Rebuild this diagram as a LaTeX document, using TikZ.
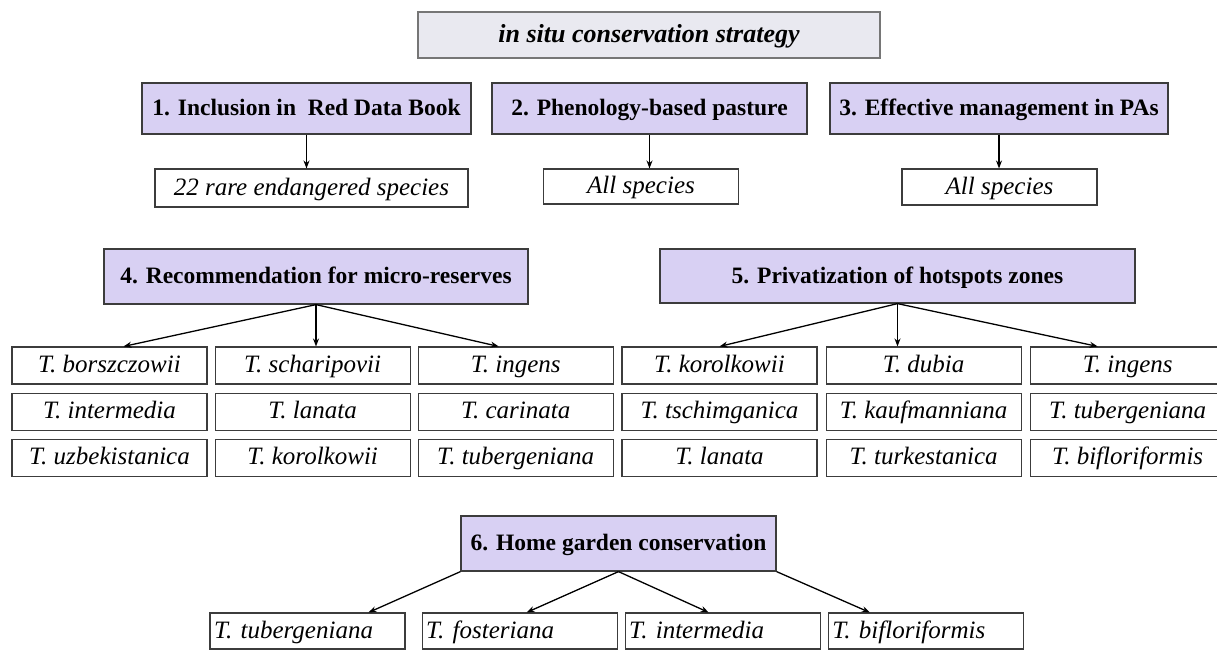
\documentclass[tikz,border=0pt]{standalone}
\usepackage{fontspec}
\setmainfont{Liberation Serif}
\usetikzlibrary{arrows.meta,positioning}
\definecolor{headfill}{RGB}{216,208,243}
\definecolor{titlefill}{RGB}{233,233,240}
\definecolor{boxline}{RGB}{60,60,60}

\begin{document}
\begin{tikzpicture}[
    x=1pt, y=-1pt,
    titlebox/.style={draw=boxline!70, fill=titlefill, line width=1.2pt, minimum width=462pt, minimum height=46pt, inner sep=0pt, text height=18pt, text depth=3pt, font=\fontsize{26}{30}\selectfont\bfseries\itshape},
    headbox/.style={draw=boxline, fill=headfill, line width=1.2pt, minimum height=51pt, inner sep=0pt, text height=16pt, text depth=2pt, font=\fontsize{23.5}{28}\selectfont\bfseries},
    leafbox/.style={draw=boxline, fill=white, line width=1.1pt, minimum width=195pt, minimum height=37pt, inner sep=0pt, text height=17pt, text depth=3pt, font=\fontsize{25}{29}\selectfont\itshape},
    leftleaf/.style={leafbox, text width=187pt, inner xsep=4pt, align=left},
    arrow/.style={-{Stealth[length=8pt,width=6pt]}, line width=1.3pt}
]
    \useasboundingbox[fill=white] (0,0) rectangle (1217,649);

    % strategy and the first three measures
    \node[titlebox] (top) at (649,35) {in situ conservation strategy};
    \node[headbox, minimum width=329pt] (h1) at (306.5,108.5) {1. Inclusion in\ \ Red Data Book};
    \node[headbox, minimum width=315pt] (h2) at (649.5,108.5) {2. Phenology-based pasture};
    \node[headbox, minimum width=338pt] (h3) at (999,108.5) {3. Effective management in PAs};
    \node[leafbox, minimum width=313pt, minimum height=38pt] (s1) at (311.5,188) {22 rare endangered species};
    \node[leafbox, minimum height=35pt] (s2) at (641,186.5) {All species};
    \node[leafbox, minimum height=36pt] (s3) at (999.5,187) {All species};

    \draw[arrow] (h1.south) -- (h1.south |- s1.north);
    \draw[arrow] (h2.south) -- (h2.south |- s2.north);
    \draw[arrow] (h3.south) -- (h3.south |- s3.north);

    % micro-reserves
    \node[headbox, minimum width=424pt, minimum height=55pt] (h4) at (316,276.5) {4. Recommendation for micro-reserves};
    \node[leafbox] (m11) at (109.5,365.5) {T. borszczowii};
    \node[leafbox, right=7pt of m11] (m12) {T. scharipovii};
    \node[leafbox, right=7pt of m12] (m13) {T. ingens};
    \node[leafbox, below=8pt of m11] (m21) {T. intermedia};
    \node[leafbox, below=8pt of m12] (m22) {T. lanata};
    \node[leafbox, below=8pt of m13] (m23) {T. carinata};
    \node[leafbox, below=8pt of m21] (m31) {T. uzbekistanica};
    \node[leafbox, below=8pt of m22] (m32) {T. korolkowii};
    \node[leafbox, below=8pt of m23] (m33) {T. tubergeniana};

    \draw[arrow] (h4.south) -- ([xshift=14pt]m11.north);
    \draw[arrow] (h4.south) -- (h4.south |- m12.north);
    \draw[arrow] (h4.south) -- ([xshift=-17pt]m13.north);

    % hotspots zones
    \node[headbox, minimum width=475pt, minimum height=54pt] (h5) at (897.5,276) {5. Privatization of hotspots zones};
    \node[leafbox] (r11) at (719.5,365.5) {T. korolkowii};
    \node[leafbox, right=8pt of r11] (r12) {T. dubia};
    \node[leafbox, right=8pt of r12] (r13) {T. ingens};
    \node[leafbox, below=8pt of r11] (r21) {T. tschimganica};
    \node[leafbox, below=8pt of r12] (r22) {T. kaufmanniana};
    \node[leafbox, below=8pt of r13] (r23) {T. tubergeniana};
    \node[leafbox, below=8pt of r21] (r31) {T. lanata};
    \node[leafbox, below=8pt of r22] (r32) {T. turkestanica};
    \node[leafbox, below=8pt of r23] (r33) {T. bifloriformis};

    \draw[arrow] (h5.south) -- (r11.north);
    \draw[arrow] (h5.south) -- (h5.south |- r12.north);
    \draw[arrow] (h5.south) -- ([xshift=-30pt]r13.north);

    % home garden
    \node[headbox, minimum width=315pt, minimum height=55pt] (h6) at (618.5,543.5) {6. Home garden conservation};
    \node[leftleaf, minimum height=36pt] (g1) at (307.5,631) {T. tubergeniana};
    \node[leftleaf, minimum height=36pt, right=16pt of g1] (g2) {T. fosteriana};
    \node[leftleaf, minimum height=36pt, right=7pt of g2] (g3) {T. intermedia};
    \node[leftleaf, minimum height=36pt, right=7pt of g3] (g4) {T. bifloriformis};

    \draw[arrow] (h6.south west) -- ([xshift=61pt]g1.north);
    \draw[arrow] (h6.south) -- ([xshift=7pt]g2.north);
    \draw[arrow] (h6.south) -- ([xshift=-14pt]g3.north);
    \draw[arrow] (h6.south east) -- ([xshift=-56pt]g4.north);
\end{tikzpicture}
\end{document}
